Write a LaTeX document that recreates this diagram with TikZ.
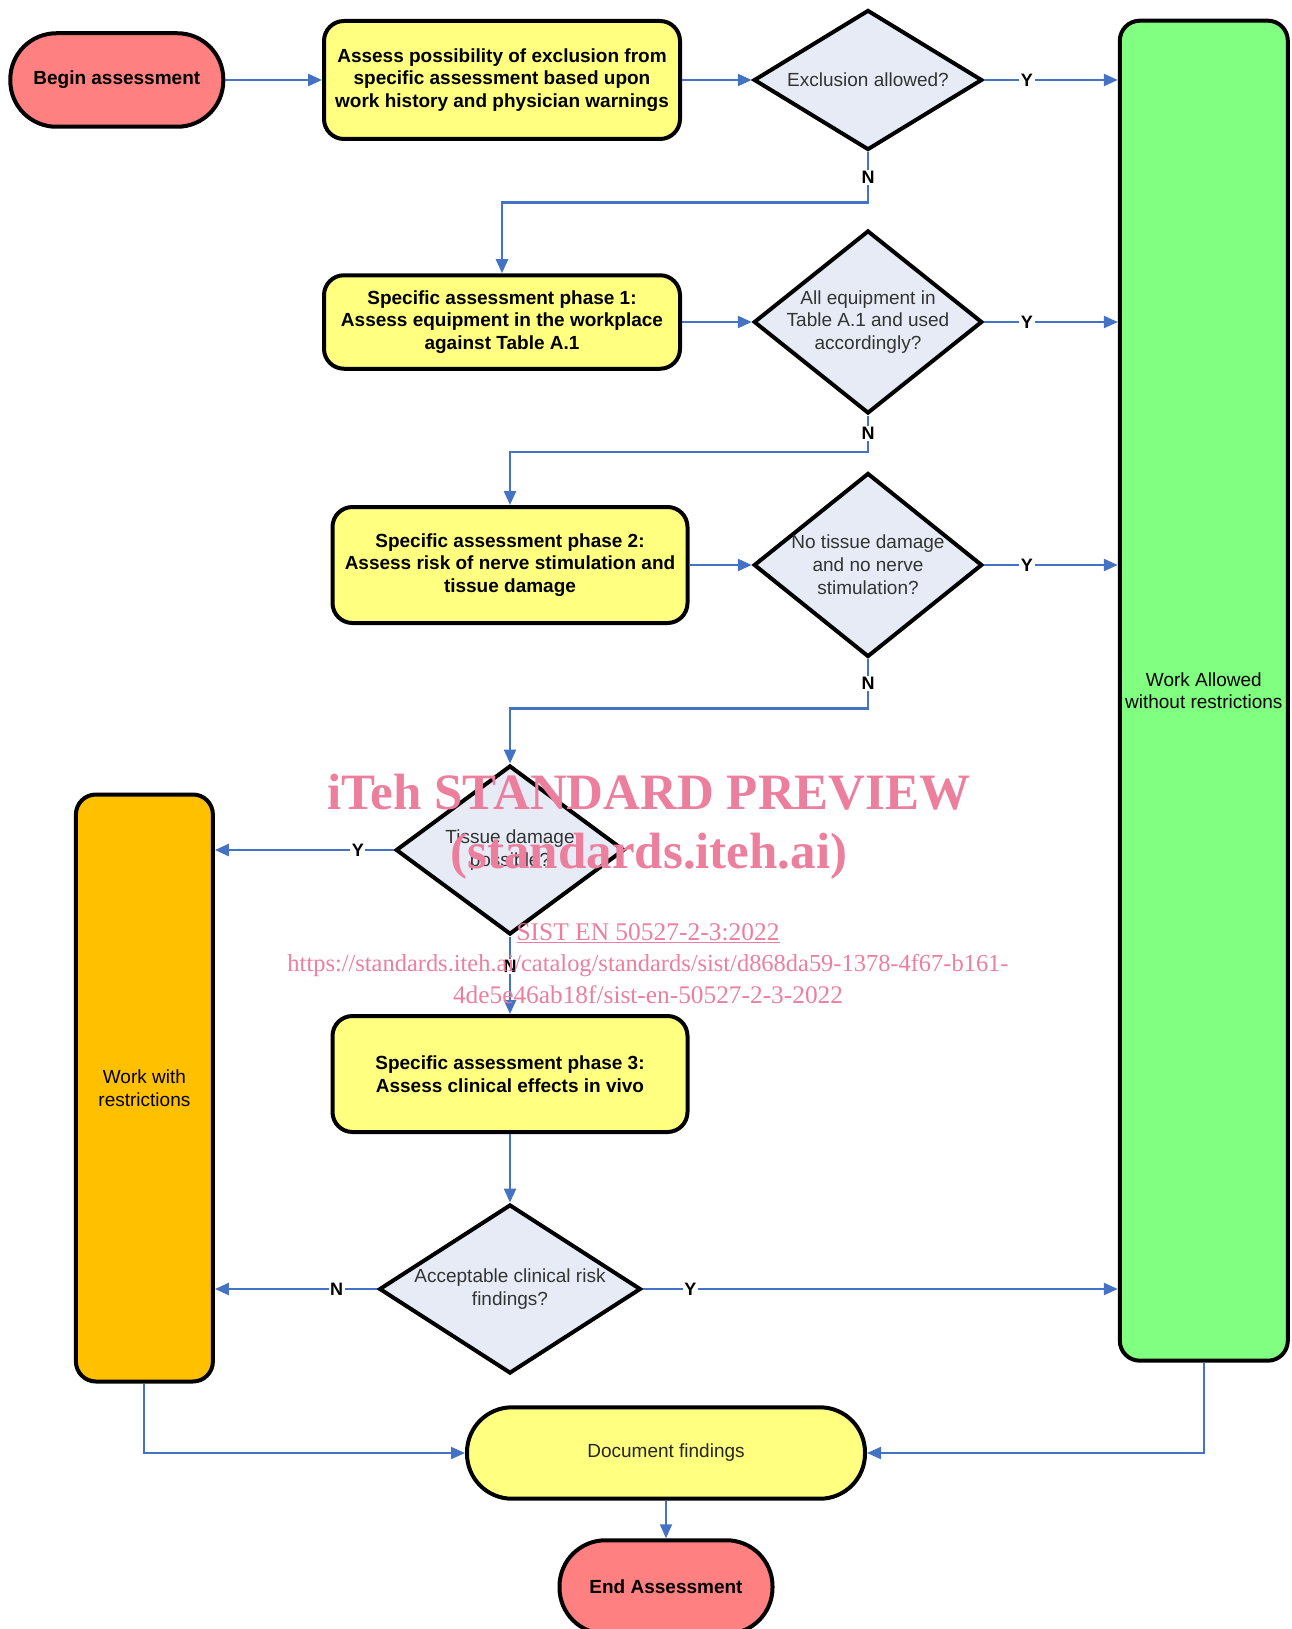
\documentclass[tikz,border=0pt]{standalone}
\usepackage{fontspec}
\usepackage{graphicx}
\setmainfont{Liberation Sans}
\newfontfamily\wmfont{Liberation Serif}
\usetikzlibrary{arrows.meta,shapes.geometric}
\definecolor{lnblue}{RGB}{68,114,196}
\definecolor{termred}{RGB}{255,128,128}
\definecolor{procyel}{RGB}{255,255,128}
\definecolor{diafill}{RGB}{230,235,245}
\definecolor{wgreen}{RGB}{128,255,128}
\definecolor{worange}{RGB}{255,192,0}
\definecolor{wmpink}{RGB}{236,126,158}
\begin{document}
\begin{tikzpicture}[x=1pt,y=-1pt,
  every node/.style={font=\fontsize{19}{22.8}\selectfont},
  termbox/.style={draw=black, line width=4pt, fill=termred, rounded corners=46pt,
    minimum width=213pt, minimum height=93.5pt, inner sep=0pt, align=center,
    font=\bfseries\fontsize{19}{22.8}\selectfont},
  procbox/.style={draw=black, line width=4pt, fill=procyel, rounded corners=20pt,
    minimum width=356pt, inner sep=0pt, align=center,
    font=\bfseries\fontsize{19}{22.8}\selectfont},
  bigbox/.style={draw=black, line width=4pt, rounded corners=20pt, inner sep=0pt,
    align=center, font=\fontsize{19}{22.8}\selectfont},
  dia/.style={shape=diamond, draw=black, line width=4pt, fill=diafill, inner sep=0pt,
    minimum width=228.5pt},
  dtext/.style={align=center, text=black!80, inner sep=0pt, font=\fontsize{19}{22.8}\selectfont},
  conn/.style={draw=lnblue, line width=2.5pt, -{Triangle[length=14pt,width=12pt]}},
  ynlab/.style={fill=white, text=black, inner sep=1.5pt, font=\bfseries\fontsize{18}{18}\selectfont},
  wm/.style={text=wmpink, inner sep=0pt, anchor=base}
]
\useasboundingbox (0,0) rectangle (1291,1629);
\clip (0,0) rectangle (1291,1629);

% nodes
\node[termbox] (begin) at (116.8,80) {Begin assessment};
\node[procbox, minimum height=118pt] (b1) at (502,80) {Assess possibility of exclusion from\\specific assessment based upon\\work history and physician warnings};
\node[dia, minimum height=140pt, label={[dtext]center:{Exclusion allowed?}}] (d1) at (868,80) {};
\node[bigbox, fill=wgreen, minimum width=168pt, minimum height=1340pt] (green) at (1203.8,690.7) {Work Allowed\\without restrictions};
\node[procbox, minimum height=93.5pt] (b2) at (502,322) {Specific assessment phase 1:\\Assess equipment in the workplace\\against Table A.1};
\node[dia, minimum height=183pt, label={[dtext]center:{All equipment in\\Table A.1 and used\\accordingly?}}] (d2) at (868,322) {};
\node[procbox, minimum width=355pt, minimum height=116pt] (b3) at (510,565) {Specific assessment phase 2:\\Assess risk of nerve stimulation and\\tissue damage};
\node[dia, minimum height=184pt, label={[dtext]center:{No tissue damage\\and no nerve\\stimulation?}}] (d3) at (868,565) {};
\node[dia, minimum height=169pt, label={[dtext]center:{Tissue damage\\possible?}}] (d4) at (510,850) {};
\node[bigbox, fill=worange, minimum width=137pt, minimum height=587pt] (orange) at (144.4,1088) {Work with\\restrictions};
\node[procbox, minimum width=355pt, minimum height=116pt] (b4) at (510,1074) {Specific assessment phase 3:\\Assess clinical effects in vivo};
\node[dia, minimum width=261.7pt, minimum height=169pt, label={[dtext]center:{Acceptable clinical risk\\findings?}}] (d5) at (510,1289) {};
\node[termbox, fill=procyel, rounded corners=45pt, minimum width=398pt, minimum height=91.4pt, font=\fontsize{19}{22.8}\selectfont, text=black!85] (doc) at (666,1453) {Document findings};
\node[termbox] (end) at (666,1587) {End Assessment};

% connectors
\draw[conn] (begin.east) -- (b1.west);
\draw[conn] (b1.east) -- (d1.west);
\draw[conn] (d1.east) -- node[ynlab,pos=0.32]{Y} (d1.east -| green.west);
\draw[conn] (d1.south) -- node[ynlab]{N} ++(0,50.4) -| (b2.north);
\draw[conn] (b2.east) -- (d2.west);
\draw[conn] (d2.east) -- node[ynlab,pos=0.32]{Y} (d2.east -| green.west);
\draw[conn] (d2.south) -- node[ynlab]{N} ++(0,36.3) -| (b3.north);
\draw[conn] (b3.east) -- (d3.west);
\draw[conn] (d3.east) -- node[ynlab,pos=0.32]{Y} (d3.east -| green.west);
\draw[conn] (d3.south) -- node[ynlab]{N} ++(0,49.6) -| (d4.north);
\draw[conn] (d4.west) -- node[ynlab,pos=0.2]{Y} (d4.west -| orange.east);
\draw[conn] (d4.south) -- node[ynlab,pos=0.39]{N} (b4.north);
\draw[conn] (b4.south) -- (d5.north);
\draw[conn] (d5.west) -- node[ynlab,pos=0.25]{N} (d5.west -| orange.east);
\draw[conn] (d5.east) -- node[ynlab,pos=0.1]{Y} (d5.east -| green.west);
\draw[conn, line width=2pt] (orange.south) |- (doc.west);
\draw[conn, line width=2pt] (green.south) |- (doc.east);
\draw[conn, line width=2pt] (doc.south) -- (end.north);

% watermark
\node[wm, font=\wmfont\bfseries\fontsize{51}{51}\selectfont] (wm1) at (649,809) {iTeh STANDARD PREVIEW};
\node[wm, font=\wmfont\bfseries\fontsize{51}{51}\selectfont] (wm2) at (649,868) {(standards.iteh.ai)};
\node[wm, font=\wmfont\fontsize{26}{26}\selectfont] (wm3) at (648,940) {\resizebox{263pt}{!}{\underline{SIST EN 50527-2-3:2022}}};
\node[wm, font=\wmfont\fontsize{26}{26}\selectfont] (wm4) at (648,971) {\resizebox{721pt}{!}{https://standards.iteh.ai/catalog/standards/sist/d868da59-1378-4f67-b161-}};
\node[wm, font=\wmfont\fontsize{26}{26}\selectfont] (wm5) at (648,1003) {\resizebox{390pt}{!}{4de5e46ab18f/sist-en-50527-2-3-2022}};
\end{tikzpicture}
\end{document}
